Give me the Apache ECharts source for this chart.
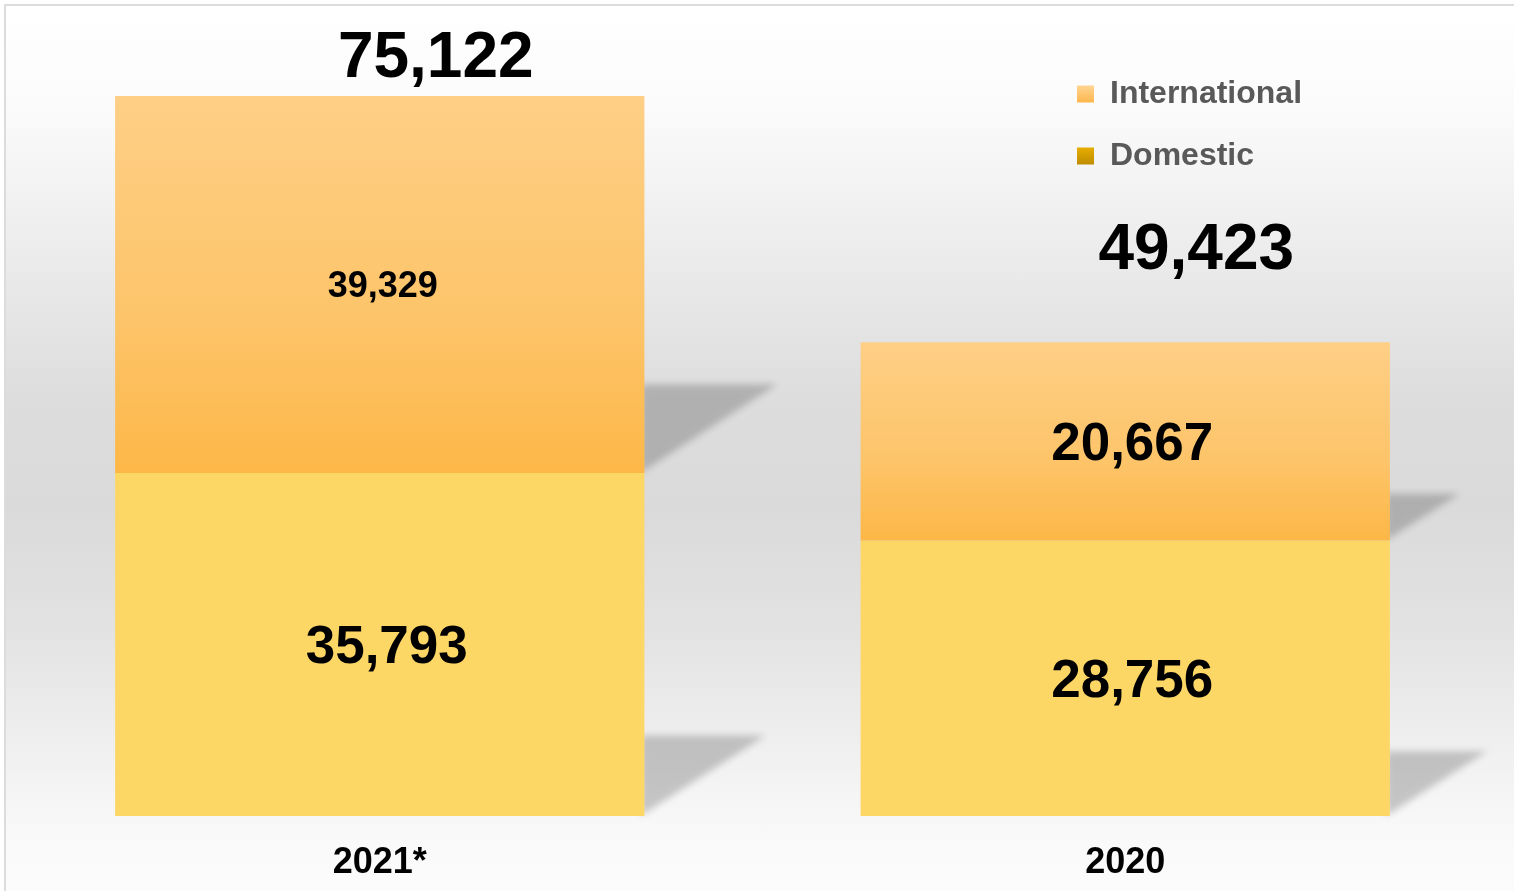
<!DOCTYPE html>
<html>
<head>
<meta charset="utf-8">
<script src="https://cdn.jsdelivr.net/npm/echarts@6/dist/echarts.min.js"></script>
<style>
  html, body { margin: 0; padding: 0; background: #fff; overflow: hidden; }
  #frame {
    position: absolute; left: 4px; top: 4px; width: 1530px; height: 910px;
    border: 2px solid #dcdcdc;
    background: linear-gradient(to bottom, #ffffff 0%, #fbfbfb 11%, #e9e9e9 30%, #dddddd 43%, #dadada 55%, #e2e2e2 68%, #efefef 81%, #f9f9f9 91%, #fdfdfd 100%);
  }
  #main { position: absolute; left: 0; top: 0; width: 1514px; height: 891px; }
</style>
</head>
<body>
<div id="frame"></div>
<div id="main"></div>
<script>
const years = ['2021*', '2020'];
const domestic = [35793, 28756];
const international = [39329, 20667];
const totals = [75122, 49423];

const font = "'Liberation Sans', Arial, sans-serif";

// where the total labels sit relative to the top of each stack
const totalShift = [[56, -37], [71, -91]];

// little triangular drop shadows to the right of each segment
const shadowData = [];
years.forEach((y, i) => {
  shadowData.push([i, 0, domestic[i]]);
  shadowData.push([i, domestic[i], domestic[i] + international[i]]);
});

// the triangle itself is pushed off-canvas, only its blurred canvas shadow shows
const FAR = 4000;
function renderShadow(params, api) {
  const base = api.coord([api.value(0), api.value(1)]);
  const top = api.coord([api.value(0), api.value(2)]);
  const band = api.size([1, 0])[0];
  const right = base[0] + band * 0.71 / 2 + FAR;
  const h = (base[1] - top[1]) * 0.235;
  const w = h * 1.5;
  return {
    type: 'polygon',
    shape: { points: [[right - 4, base[1] - h], [right + w, base[1] - h], [right - 4, base[1]]] },
    style: {
      fill: '#000',
      shadowBlur: 7,
      shadowOffsetX: -FAR,
      shadowColor: 'rgba(0,0,0,0.2)'
    }
  };
}

const intlColor = new echarts.graphic.LinearGradient(0, 0, 0, 1, [
  { offset: 0, color: '#fecf86' },
  { offset: 0.6, color: '#fdc469' },
  { offset: 1, color: '#fdb747' }
]);

const valueLabel = {
  show: true, position: 'inside', offset: [7, 4],
  fontFamily: font, fontSize: 53, fontWeight: 'bold', color: '#000',
  formatter: p => p.value.toLocaleString('en-US')
};

const option = {
  backgroundColor: 'transparent',
  animation: false,
  grid: { left: 7, right: 16, top: 96, bottom: 75 },
  legend: {
    orient: 'vertical',
    left: 1077,
    top: 78,
    padding: 0,
    itemWidth: 17,
    itemHeight: 17,
    itemGap: 30,
    icon: 'rect',
    textStyle: {
      fontFamily: font, fontSize: 32, fontWeight: 'bold', color: '#595959',
      lineHeight: 32, padding: [0, 0, 0, 11]
    },
    data: [
      {
        name: 'International',
        itemStyle: {
          color: new echarts.graphic.LinearGradient(0, 0, 0, 1, [
            { offset: 0, color: '#ffd592' }, { offset: 1, color: '#fdb64c' }
          ])
        }
      },
      {
        name: 'Domestic',
        itemStyle: {
          color: new echarts.graphic.LinearGradient(0, 0, 0, 1, [
            { offset: 0, color: '#e6ad00' }, { offset: 1, color: '#bf8c00' }
          ])
        }
      }
    ]
  },
  xAxis: {
    type: 'category',
    data: years,
    axisLine: { show: false },
    axisTick: { show: false },
    axisLabel: {
      margin: 29,
      fontFamily: font, fontSize: 36, fontWeight: 'bold', color: '#000'
    }
  },
  yAxis: {
    type: 'value',
    min: 0,
    max: Math.max(...totals),
    show: false,
    splitLine: { show: false }
  },
  series: [
    {
      name: 'shadow',
      type: 'custom',
      renderItem: renderShadow,
      data: shadowData,
      silent: true,
      clip: false,
      z: 1
    },
    {
      name: 'Domestic',
      type: 'bar',
      stack: 'total',
      barWidth: '71%',
      z: 2,
      itemStyle: { color: '#fdd766' },
      label: valueLabel,
      data: domestic
    },
    {
      name: 'International',
      type: 'bar',
      stack: 'total',
      barWidth: '71%',
      z: 2,
      itemStyle: { color: intlColor },
      label: valueLabel,
      data: international.map((v, i) => i === 0 ? { value: v, label: { fontSize: 36, offset: [3, 3] } } : v)
    },
    {
      name: 'Total',
      type: 'scatter',
      symbolSize: 0,
      silent: true,
      z: 3,
      itemStyle: { opacity: 1 },
      label: {
        show: true, position: 'inside',
        fontFamily: font, fontSize: 64, fontWeight: 'bold', color: '#000',
        formatter: p => p.value.toLocaleString('en-US')
      },
      data: totals.map((v, i) => ({ value: v, label: { offset: totalShift[i], color: '#000' } }))
    }
  ]
};

const chart = echarts.init(document.getElementById('main'), null, { renderer: 'canvas' });
chart.setOption(option);
</script>
</body>
</html>
